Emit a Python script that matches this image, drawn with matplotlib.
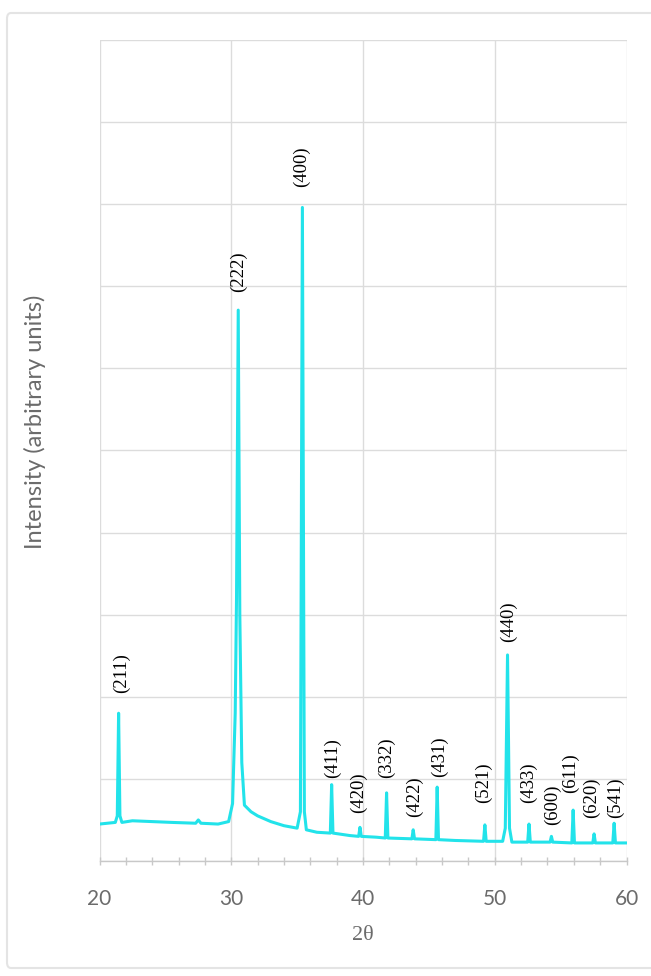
import matplotlib
matplotlib.use("Agg")
import matplotlib.pyplot as plt
from matplotlib.patches import FancyBboxPatch
from matplotlib.ticker import MultipleLocator, NullFormatter

# Diffraction pattern traced as (2theta, intensity) vertices
two_theta = [
    20.0, 21.2, 21.35, 21.45, 21.55, 21.7, 22.5, 24.0, 25.5, 27.3, 27.5, 27.7,
    29.0, 29.8, 30.1, 30.3, 30.4, 30.53, 30.65, 30.8, 31.0, 31.5, 32.0, 33.0,
    34.0, 35.0, 35.25, 35.4, 35.55, 35.7, 36.5, 37.52, 37.62, 37.72, 39.0,
    39.67, 39.77, 39.87, 41.0, 41.69, 41.79, 41.89, 43.71, 43.81, 43.91,
    45.53, 45.63, 45.73, 47.0, 49.15, 49.25, 49.35, 50.6, 50.8, 50.97, 51.12,
    51.3, 52.5, 52.6, 52.7, 54.2, 54.3, 54.4, 55.85, 55.95, 56.05, 57.44,
    57.54, 57.64, 58.96, 59.06, 59.16, 60.0,
]
intensity = [
    0.45, 0.47, 0.55, 1.80, 0.55, 0.47, 0.49, 0.48, 0.47, 0.46, 0.50, 0.46,
    0.45, 0.48, 0.70, 1.80, 3.20, 6.71, 3.00, 1.20, 0.68, 0.60, 0.55, 0.48,
    0.43, 0.40, 0.60, 7.96, 0.60, 0.38, 0.35, 0.34, 0.93, 0.34, 0.31,
    0.30, 0.41, 0.30, 0.29, 0.28, 0.83, 0.28, 0.27, 0.38, 0.27,
    0.26, 0.90, 0.26, 0.25, 0.24, 0.44, 0.24, 0.24, 0.40, 2.51, 0.40,
    0.23, 0.23, 0.45, 0.23, 0.23, 0.30, 0.23, 0.22, 0.62, 0.22, 0.22,
    0.33, 0.22, 0.22, 0.46, 0.22, 0.22,
]

# Miller indices of the indexed reflections
hkl_labels = ["(211)", "(222)", "(400)", "(411)", "(420)", "(332)", "(422)",
              "(431)", "(440)", "(521)", "(433)", "(600)", "(611)", "(620)",
              "(541)"]

# Label placement (2theta of label centre, intensity of label bottom)
label_x = [21.65, 30.58, 35.36, 37.72, 39.69, 41.81, 43.94, 45.83, 51.07,
           49.18, 52.59, 54.41, 55.77, 57.36, 59.18]
label_y = [2.05, 6.93, 8.21, 1.01, 0.58, 1.01, 0.54, 1.02, 2.67, 0.71, 0.71,
           0.44, 0.83, 0.52, 0.52]

x_ticks = [20, 30, 40, 50, 60]

W, H = 651, 976
fig = plt.figure(figsize=(W / 100, H / 100), dpi=100)
fig.patch.set_facecolor("white")

# light outer frame
frame = FancyBboxPatch((7 / W, 1 - 968 / H), (W + 10) / W, (968 - 13) / H,
                       boxstyle="round,pad=0,rounding_size=0.006",
                       transform=fig.transFigure, facecolor="none",
                       edgecolor="#e4e4e4", linewidth=1.5, clip_on=False)
fig.patches.append(frame)

left, right = 99.5 / W, 626.5 / W
bottom, top = 1 - 861 / H, 1 - 40 / H
ax = fig.add_axes([left, bottom, right - left, top - bottom])

ax.plot(two_theta, intensity, color="#22e3ea", linewidth=2.2,
        solid_joinstyle="round", zorder=3)

for lab, lx, ly in zip(hkl_labels, label_x, label_y):
    ax.text(lx, ly, lab, rotation=90, ha="center", va="bottom",
            fontsize=13.5, family="Liberation Serif", color="#000000",
            zorder=4)

ax.set_xlim(20, 60)
ax.set_ylim(0, 10)
ax.set_xticks(x_ticks)
ax.xaxis.set_minor_locator(MultipleLocator(2))
ax.yaxis.set_major_locator(MultipleLocator(1))
ax.yaxis.set_major_formatter(NullFormatter())
ax.tick_params(axis="y", length=0)
ax.tick_params(axis="x", which="both", direction="inout", length=6,
               width=1, color="#c8c8c8", pad=17, labelsize=15,
               labelcolor="#6b6b6b")
for t in ax.get_xticklabels():
    t.set_family("Lato")

ax.grid(True, which="major", color="#dcdcdc", linewidth=1.0, zorder=0)
ax.set_axisbelow(True)
for side in ("top", "right", "left"):
    ax.spines[side].set_visible(False)
ax.spines["bottom"].set_color("#c8c8c8")
ax.spines["bottom"].set_linewidth(1.0)

fig.text(35 / W, 1 - 422 / H, "Intensity (arbitrary units)", rotation=90,
         ha="center", va="center", fontsize=17, family="Lato",
         color="#6b6b6b")
fig.text(363 / W, 1 - 935 / H, "2θ", ha="center", va="center",
         fontsize=16, family="Liberation Serif", color="#6b6b6b")

fig.savefig("out.png", dpi=100, facecolor="white")
